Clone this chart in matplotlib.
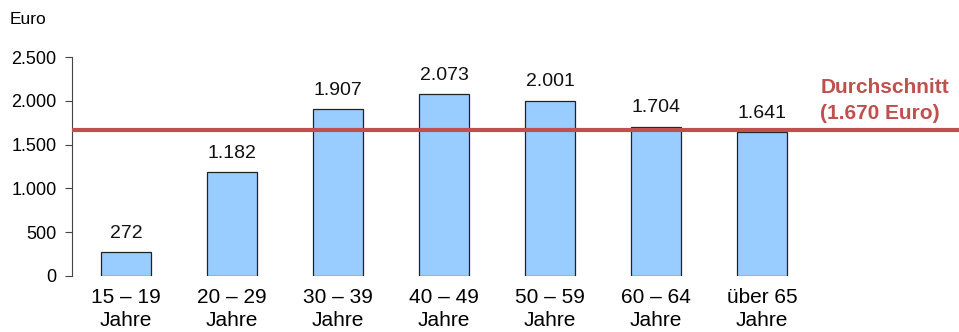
import matplotlib
matplotlib.use("Agg")
import matplotlib.pyplot as plt

plt.rcParams['font.family'] = ['Liberation Sans', 'DejaVu Sans']

age_groups = ["15 – 19\nJahre", "20 – 29\nJahre", "30 – 39\nJahre", "40 – 49\nJahre",
              "50 – 59\nJahre", "60 – 64\nJahre", "über 65\nJahre"]
income = [272, 1182, 1907, 2073, 2001, 1704, 1641]
average = 1670
y_ticks = [0, 500, 1000, 1500, 2000, 2500]


def fmt(v):
    return f"{v:,}".replace(",", ".")


fig = plt.figure(figsize=(9.59, 3.32), dpi=100)
ax = fig.add_axes([0.0751, 0.1687, 0.9249, 0.6596])

x = list(range(len(income)))
bars = ax.bar(x, income, width=0.47, color="#99ccff", edgecolor="#222222", linewidth=0.9, zorder=2)

for xi, v in zip(x, income):
    ax.annotate(fmt(v), (xi, v), xytext=(0, 7.5), textcoords="offset points",
                ha="center", va="bottom", fontsize=14, color="#111111")

# average line with its label on the right
ax.axhline(average, color="#c0504d", linewidth=3, zorder=3)
ax.text(6.55, 2000, f"Durchschnitt\n({fmt(average)} Euro)",
        ha="left", va="center", fontsize=15, fontweight="bold", color="#c0504d", linespacing=1.45)

ax.set_xlim(-0.51, 7.86)
ax.set_ylim(0, 2500)
ax.set_xticks(x)
ax.set_xticklabels(age_groups, fontsize=15, linespacing=1.25)
ax.tick_params(axis="x", length=0, pad=9)
ax.set_yticks(y_ticks)
ax.set_yticklabels([fmt(t) for t in y_ticks], fontsize=13)
ax.tick_params(axis="y", length=5, width=0.8, color="#444444", pad=6)

for side in ("top", "right", "bottom"):
    ax.spines[side].set_visible(False)
ax.spines["left"].set_color("#444444")
ax.spines["left"].set_linewidth(0.8)

fig.text(0.0105, 0.94, "Euro", fontsize=12.5, ha="left", va="center")

fig.savefig("out.png", dpi=100)
